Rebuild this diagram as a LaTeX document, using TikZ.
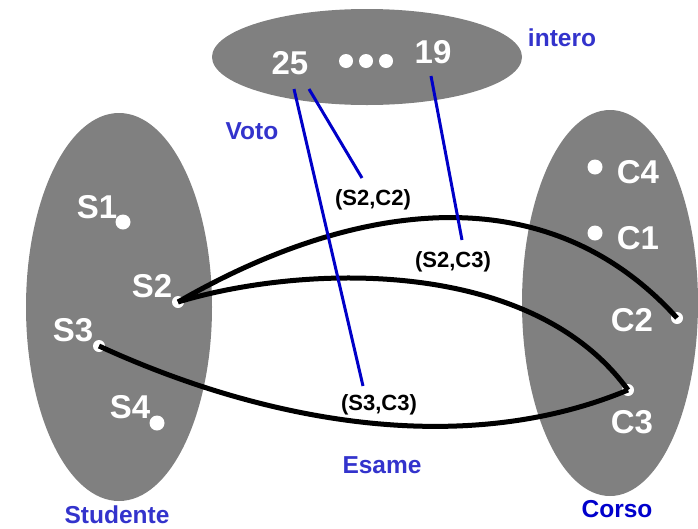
\documentclass[tikz,border=0pt]{standalone}
\usepackage{fontspec}
\setmainfont{Liberation Sans}
\usepackage{tikz}
\usetikzlibrary{shapes.geometric}

\definecolor{grigio}{RGB}{128,128,128}
\definecolor{bluchiaro}{RGB}{51,51,204}
\definecolor{blu}{RGB}{0,0,204}
\definecolor{blulinea}{RGB}{0,0,200}

\begin{document}
\begin{tikzpicture}[x=1pt,y=-1pt,
    dominio/.style ={ellipse, fill=grigio, inner sep=0pt},
    punto/.style ={circle, fill=white, inner sep=0pt, minimum size=15pt},
    estremo/.style ={circle, fill=white, inner sep=0pt, minimum size=12pt},
    valore/.style ={text=white, font=\fontsize{33}{33}\selectfont\bfseries, inner sep=0pt},
    nome/.style ={text=bluchiaro, font=\fontsize{24.5}{25}\selectfont\bfseries, inner sep=0pt},
    coppia/.style ={text=black, font=\fontsize{22}{22}\selectfont\bfseries, inner sep=0pt},
    istanza/.style ={line width=5pt},
    legame/.style ={blulinea, line width=3pt}]
   \useasboundingbox (0,0) rectangle (698,528);

   % domini
   \node[dominio, minimum width=310pt, minimum height=96pt] (intero)   at (367,57)  {};
   \node[dominio, minimum width=186pt, minimum height=388pt] (studente) at (119,307) {};
   \node[dominio, minimum width=176pt, minimum height=386pt] (corso)    at (610,303) {};

   % valori di intero
   \node[valore] (v25) at (290,63) {25};
   \node[valore] (v19) at (433,52) {19};
   \node[punto, minimum size=14pt] (p1) at (346,61) {};
   \node[punto, minimum size=14pt] (p2) at (366,61) {};
   \node[punto, minimum size=14pt] (p3) at (386,61) {};

   % studenti
   \node[punto]   (s1) at (123,222) {};
   \node[estremo] (s2) at (178,302) {};
   \node[estremo] (s3) at (99,346)  {};
   \node[punto]   (s4) at (157,423) {};
   \node[valore] (ls1) at (97,207)  {S1};
   \node[valore] (ls2) at (152,286) {S2};
   \node[valore] (ls3) at (73,330)  {S3};
   \node[valore] (ls4) at (130,407) {S4};

   % corsi
   \node[punto]   (c4) at (595,167) {};
   \node[punto]   (c1) at (595,233) {};
   \node[estremo] (c2) at (677,318) {};
   \node[estremo] (c3) at (628,390) {};
   \node[valore] (lc4) at (638,172) {C4};
   \node[valore] (lc1) at (638,238) {C1};
   \node[valore] (lc2) at (632,320) {C2};
   \node[valore] (lc3) at (632,422) {C3};

   % istanze di Esame
   \draw[istanza] (s2.center) .. controls (328,215) and (534,160) .. (c2.center);
   \draw[istanza] (s2.center) .. controls (300,265) and (530,255) .. (c3.center);
   \draw[istanza] (s3.center) .. controls (260,420) and (460,460) .. (c3.center);

   % coppie
   \node[coppia] (s2c2) at (373,200) {(S2,C2)};
   \node[coppia] (s2c3) at (453,262) {(S2,C3)};
   \node[coppia] (s3c3) at (379,405) {(S3,C3)};

   % voto
   \coordinate (da25a) at (294,89);
   \coordinate (da25b) at (309,89);
   \coordinate (da19)  at (431,76);
   \coordinate (a33) at (363,386);
   \coordinate (a22) at (362,178);
   \coordinate (a23) at (462,240);
   \draw[legame] (da25a) -- (a33);
   \draw[legame] (da25b) -- (a22);
   \draw[legame] (da19) -- (a23);

   % nomi
   \node[nome] (nintero)   at (562,38)  {intero};
   \node[nome] (nvoto)     at (252,131) {Voto};
   \node[nome] (nesame)    at (382,465) {Esame};
   \node[nome] (nstudente) at (117,515) {Studente};
   \node[nome, text=blu] (ncorso) at (617,509) {Corso};
 \end{tikzpicture}
\end{document}
